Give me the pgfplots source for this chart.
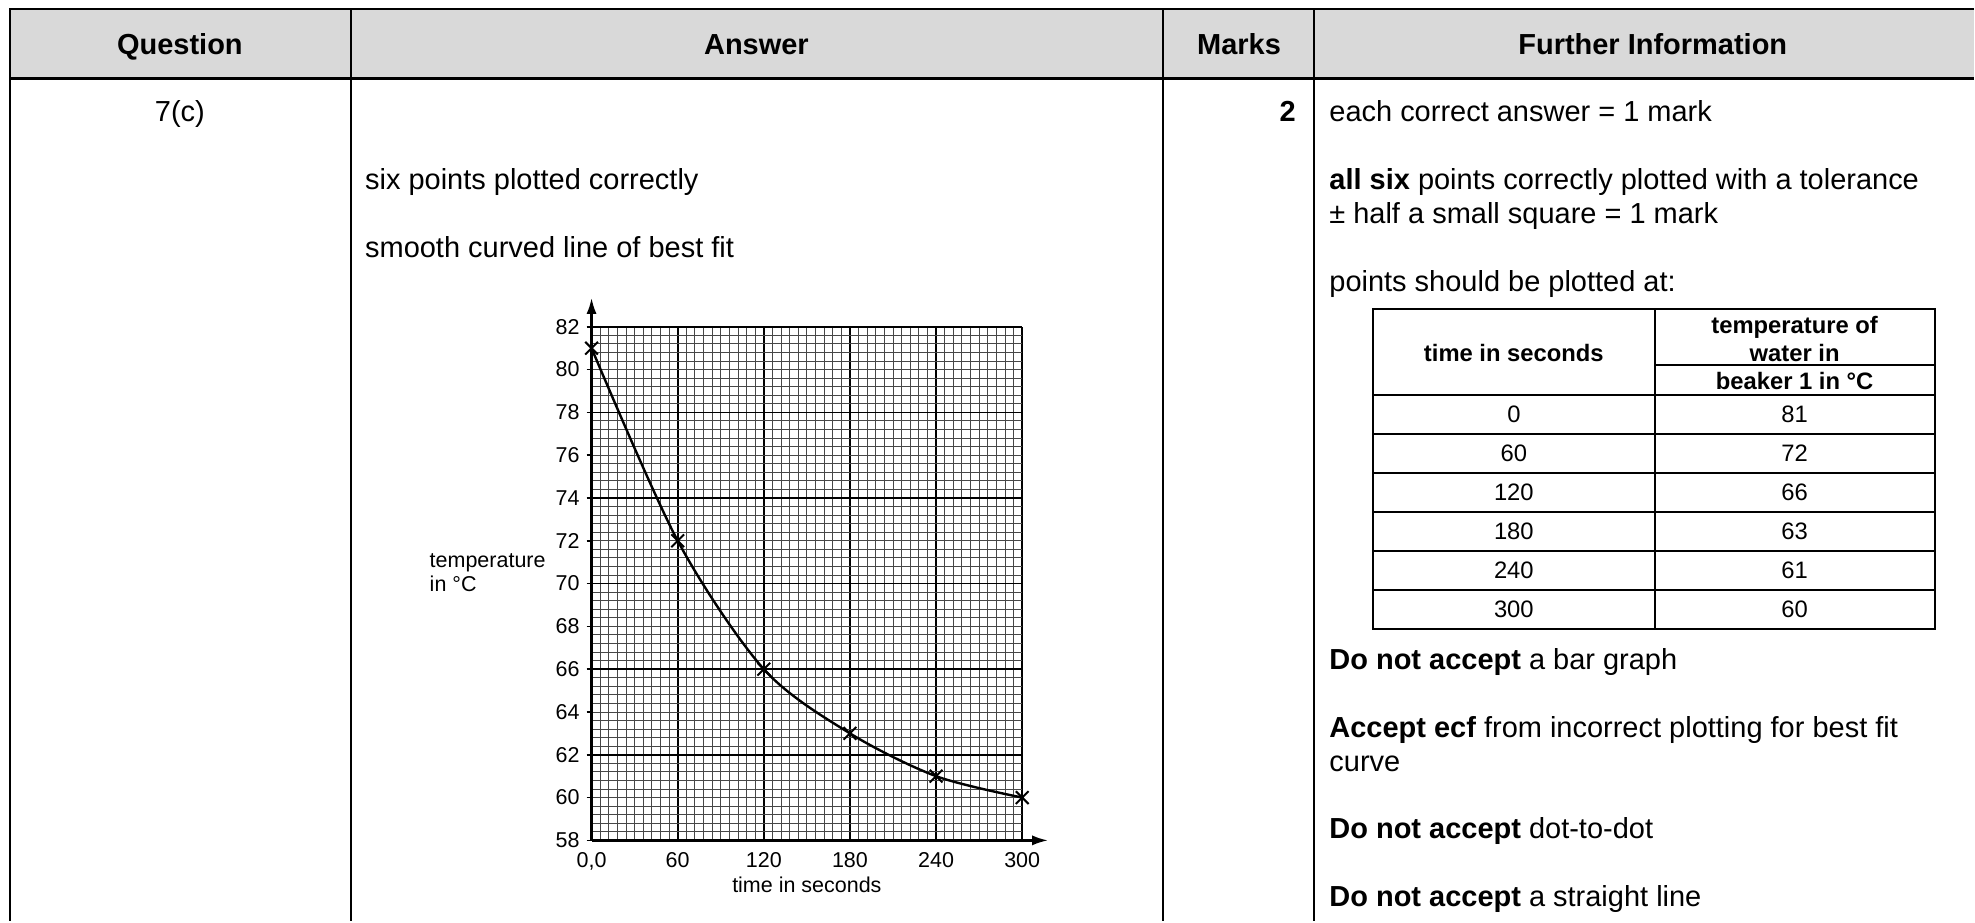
\documentclass[border=0pt]{standalone}
\usepackage{fontspec}
\setmainfont{Liberation Sans}
\usepackage{pgfplots}
\pgfplotsset{compat=1.18}
\usetikzlibrary{arrows.meta}

\definecolor{headgray}{RGB}{217,217,217}
\newcommand{\body}{\fontsize{14.5}{17}\selectfont}
\newcommand{\tabfont}{\fontsize{11.9}{14}\selectfont}
\newcommand{\chartfont}{\fontsize{10.75}{12}\selectfont}

\begin{document}
\begin{tikzpicture}
% page grid in pixels of the reference, y downwards
\begin{scope}[x=0.5pt,y=-0.5pt,
  txt/.style={anchor=mid west,inner sep=0pt,font=\body},
  cell/.style={anchor=mid,inner sep=0pt,font=\tabfont}]
  \path (0,0) rectangle (1975,922);
  \fill[headgray] (10,9) rectangle (1975,79);
  \draw[line width=1pt] (1975,9) -- (10,9) -- (10,922);
  \draw[line width=1.5pt] (10,79) -- (1975,79);
  \foreach \cx in {351,1164,1315} \draw[line width=1pt] (\cx,9) -- (\cx,922);

  % header
  \node[anchor=mid,inner sep=0pt,font=\body\bfseries] at (180,49) {Question};
  \node[anchor=mid,inner sep=0pt,font=\body\bfseries] at (757,49) {Answer};
  \node[anchor=mid,inner sep=0pt,font=\body\bfseries] at (1240,49) {Marks};
  \node[anchor=mid,inner sep=0pt,font=\body\bfseries] at (1654,49) {Further Information};

  % body
  \node[anchor=mid,inner sep=0pt,font=\body] at (180,116) {7(c)};
  \node[anchor=mid east,inner sep=0pt,font=\body\bfseries] at (1297,116) {2};
  \node[txt] at (365,184) {six points plotted correctly};
  \node[txt] at (365,252) {smooth curved line of best fit};
  \node[txt] at (1330,116) {each correct answer = 1 mark};
  \node[txt] at (1330,184) {\textbf{all six} points correctly plotted with a tolerance};
  \node[txt] at (1330,218) {± half a small square = 1 mark};
  \node[txt] at (1330,286) {points should be plotted at:};
  \node[txt] at (1330,665) {\textbf{Do not accept} a bar graph};
  \node[txt] at (1330,733) {\textbf{Accept ecf} from incorrect plotting for best fit};
  \node[txt] at (1330,767) {curve};
  \node[txt] at (1330,834) {\textbf{Do not accept} dot-to-dot};
  \node[txt] at (1330,902) {\textbf{Do not accept} a straight line};

  % small table of values
  \draw[line width=1pt] (1374,309) rectangle (1936,629);
  \draw[line width=1pt] (1656,309) -- (1656,629);
  \draw[line width=1pt] (1656,365) -- (1936,365);
  \foreach \ry in {395,434,473,512,551,590} \draw[line width=1pt] (1374,\ry) -- (1936,\ry);
  \node[cell,font=\tabfont\bfseries] at (1515,356) {time in seconds};
  \node[cell,font=\tabfont\bfseries] at (1796,328) {temperature of};
  \node[cell,font=\tabfont\bfseries] at (1796,356) {water in};
  \node[cell,font=\tabfont\bfseries] at (1796,384) {beaker 1 in °C};
  \foreach \t/\v [count=\i from 0] in {0/81,60/72,120/66,180/63,240/61,300/60} {
    \node[cell] at (1515,418+39*\i) {\t};
    \node[cell] at (1796,418+39*\i) {\v};
  }

  \coordinate (O) at (592,841);
\end{scope}

\begin{axis}[
  at={(O)}, anchor=south west,
  scale only axis,
  width=215.5pt, height=257pt,
  xmin=0, xmax=300, ymin=58, ymax=82,
  axis lines=left,
  x axis line style={line width=1.2pt,-{Latex[length=8pt,width=5pt]},shorten >=-13pt},
  y axis line style={line width=1.2pt,-{Latex[length=8pt,width=5pt]},shorten >=-14.5pt},
  xtick={0,60,...,300},
  xticklabels={{0,0},60,120,180,240,300},
  ytick={58,62,...,82},
  extra y ticks={60,64,...,80},
  extra y tick style={grid=none},
  minor x tick num=9,
  minor y tick num=9,
  grid=both,
  major grid style={black,line width=0.85pt},
  minor grid style={black!72,line width=0.45pt},
  xtick align=inside, ytick align=outside,
  major tick length=2.5pt, minor tick length=0pt,
  tick style={black,line width=0.8pt},
  ticklabel style={font=\chartfont},
  xticklabel style={yshift=-2.5pt},
  /pgf/number format/assume math mode=true,
  xlabel={time in seconds},
  xlabel style={at={(rel axis cs:0.5,0)},anchor=mid,yshift=-23.5pt,font=\chartfont},
  ylabel={temperature\\in °C},
  every axis y label/.style={at={(rel axis cs:0,0)},anchor=west,align=left,
    xshift=-84.5pt,yshift=134pt,font=\chartfont},
]
\addplot[black,line width=1.2pt,smooth,tension=0.5,mark=x,mark size=4.5pt,
  mark options={line width=1pt}] coordinates {
  (0,81) (60,72) (120,66) (180,63) (240,61) (300,60)
};
\end{axis}
\end{tikzpicture}
\end{document}
